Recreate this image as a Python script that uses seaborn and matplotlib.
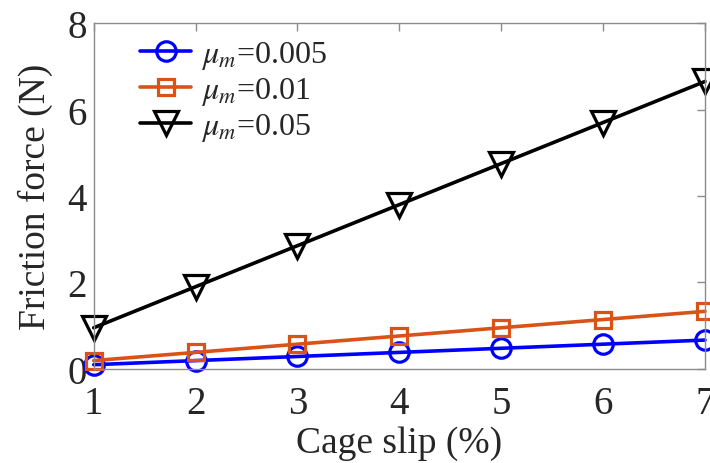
import matplotlib
matplotlib.use("Agg")
import matplotlib.pyplot as plt
import seaborn as sns
import pandas as pd

# Cage slip (%) and friction force (N) for three friction coefficients
slip = [1, 2, 3, 4, 5, 6, 7]
force_0005 = [0.095, 0.19, 0.285, 0.38, 0.475, 0.57, 0.665]
force_001 = [0.19, 0.38, 0.57, 0.76, 0.95, 1.14, 1.33]
force_005 = [0.95, 1.9, 2.85, 3.8, 4.75, 5.7, 6.65]
labels = [r"$\mu_m$=0.005", r"$\mu_m$=0.01", r"$\mu_m$=0.05"]

sns.set_style("white")
plt.rcParams["font.family"] = ["Liberation Serif", "DejaVu Serif"]
plt.rcParams["mathtext.fontset"] = "stix"

df = pd.DataFrame({
    "slip": slip * 3,
    "force": force_0005 + force_001 + force_005,
    "series": [labels[0]] * 7 + [labels[1]] * 7 + [labels[2]] * 7,
})

colors = ["#0000ff", "#d95319", "#000000"]
markers = ["o", "s", "v"]
sizes = [14, 12, 17]

fig = plt.figure(figsize=(7.1, 4.64), dpi=100)
ax = fig.add_axes([0.132, 0.203, 0.861, 0.745])

for lab, c, m, s in zip(labels, colors, markers, sizes):
    sub = df[df["series"] == lab]
    sns.lineplot(data=sub, x="slip", y="force", ax=ax, color=c, marker=m,
                 markersize=s, markerfacecolor="none", markeredgecolor=c,
                 markeredgewidth=2.3, linewidth=2.6, label=lab, clip_on=False)

ax.set_xlim(1, 7)
ax.set_ylim(0, 8)
ax.set_xticks(slip)
ax.set_yticks([0, 2, 4, 6, 8])
ax.set_xlabel("Cage slip (%)", fontsize=27, labelpad=2)
ax.set_ylabel("Friction force (N)", fontsize=27, labelpad=10)
ax.tick_params(direction="in", length=6, width=1, colors="#8c8c8c",
               labelsize=28, top=True, right=True, labelcolor="#262626")
ax.tick_params(axis="x", pad=12)
ax.tick_params(axis="y", pad=5)
for sp in ax.spines.values():
    sp.set_color("#8c8c8c")
    sp.set_linewidth(1)

leg = ax.legend(loc="upper left", frameon=False, fontsize=23,
                handlelength=1.6, handletextpad=0.3, labelspacing=0.12,
                borderaxespad=0.1, bbox_to_anchor=(0.05, 1.0))

fig.savefig("out.png", dpi=100)
